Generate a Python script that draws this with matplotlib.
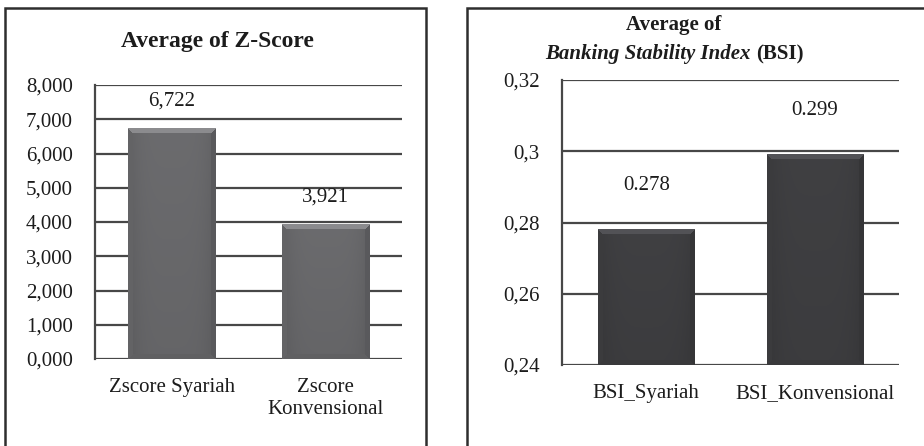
import numpy as np
import matplotlib
matplotlib.use('Agg')
import matplotlib.pyplot as plt
from matplotlib.patches import Rectangle

plt.rcParams['font.family'] = ['Liberation Serif', 'DejaVu Serif']
plt.rcParams['font.size'] = 15
plt.rcParams['text.color'] = '#1c1c1c'
plt.rcParams['xtick.color'] = '#1c1c1c'
plt.rcParams['ytick.color'] = '#1c1c1c'

# -------------------------
# DATA
# -------------------------
z_categories = ['Zscore Syariah', 'Zscore\nKonvensional']
z_values = [6.722, 3.921]
z_ticks = [0, 1, 2, 3, 4, 5, 6, 7, 8]

bsi_categories = ['BSI_Syariah', 'BSI_Konvensional']
bsi_values = [0.278, 0.299]
bsi_ticks = [0.24, 0.26, 0.28, 0.30, 0.32]

W, H = 924, 446
GRID = '#474747'
FRAME = '#2e2e2e'


def fx(px):
    return px / W


def fy(py):
    return 1 - py / H


def bevel_image(w, h, base, b=5):
    # shaded bar face: lighter top bevel, darker sides, soft bottom
    rows, cols = np.mgrid[0:h, 0:w]
    dist = np.stack([rows, cols, w - 1 - cols, h - 1 - rows])
    side = dist.argmin(axis=0)
    near = dist.min(axis=0) < b
    shade = 1 - 0.10 * (np.abs(2 * cols / max(w - 1, 1) - 1) ** 4) - 0.06 * rows / h
    factors = np.array([1.30, 0.93, 0.84, 0.90])
    shade = np.where(near, factors[side], shade)
    img = np.clip(np.array(base)[None, None, :] * shade[:, :, None], 0, 1)
    return img


def shaded_bars(ax, x, vals, width, base):
    bars = ax.bar(x, vals, width=width, color=base, zorder=3, linewidth=0)
    y0 = ax.get_ylim()[0]
    for bar in bars:
        x0, x1 = bar.get_x(), bar.get_x() + bar.get_width()
        y1 = bar.get_height()
        (px0, py0), (px1, py1) = ax.transData.transform([(x0, y0), (x1, y1)])
        img = bevel_image(int(round(px1 - px0)), int(round(py1 - py0)), base)
        ax.imshow(img, extent=(x0, x1, y0, y1), aspect='auto', zorder=4,
                  interpolation='nearest')
    return bars


def style_axes(ax, ticks, tick_labels):
    ax.set_yticks(ticks, labels=tick_labels)
    ax.yaxis.grid(True, color=GRID, linewidth=1.6)
    ax.set_axisbelow(True)
    for s in ['top', 'right', 'bottom']:
        ax.spines[s].set_visible(False)
    ax.spines['left'].set_color(GRID)
    ax.spines['left'].set_linewidth(1.6)
    ax.tick_params(axis='y', length=0, pad=16, labelsize=15)
    ax.tick_params(axis='x', length=0, pad=14, labelsize=15)


fig = plt.figure(figsize=(W / 100, H / 100), dpi=100)

# panel frames (run past the bottom / right edge)
fig.patches.append(Rectangle((fx(5), fy(470)), fx(426) - fx(5), fy(8) - fy(470),
                             transform=fig.transFigure, fill=False,
                             ec=FRAME, lw=1.8, clip_on=False))
fig.patches.append(Rectangle((fx(467), fy(470)), fx(960) - fx(467), fy(8) - fy(470),
                             transform=fig.transFigure, fill=False,
                             ec=FRAME, lw=1.8, clip_on=False))

# -------------------------
# LEFT: Z-SCORE
# -------------------------
ax1 = fig.add_axes([fx(95), fy(359), fx(402) - fx(95), fy(85) - fy(359)])
x1 = np.arange(len(z_categories))
ax1.set_xlim(-0.5, 1.5)
ax1.set_ylim(z_ticks[0], z_ticks[-1])
shaded_bars(ax1, x1, z_values, 0.57, (0.42, 0.42, 0.43))
ax1.set_xlim(-0.5, 1.5)
ax1.set_ylim(z_ticks[0], z_ticks[-1])
style_axes(ax1, z_ticks, [f'{t:.3f}'.replace('.', ',') for t in z_ticks])
ax1.set_xticks(x1, labels=z_categories)
for xi, v in zip(x1, z_values):
    ax1.annotate(f'{v:.3f}'.replace('.', ','), xy=(xi, v), xytext=(0, 20),
                 textcoords='offset points', ha='center', va='center', fontsize=15)

fig.text(fx(217), fy(42), 'Average of Z-Score', ha='center', va='center',
         fontsize=17, fontweight='bold')

# -------------------------
# RIGHT: BSI
# -------------------------
ax2 = fig.add_axes([fx(562), fy(365), fx(899) - fx(562), fy(80) - fy(365)])
x2 = np.arange(len(bsi_categories))
ax2.set_xlim(-0.5, 1.5)
ax2.set_ylim(bsi_ticks[0], bsi_ticks[-1])
shaded_bars(ax2, x2, bsi_values, 0.57, (0.25, 0.25, 0.26))
ax2.set_xlim(-0.5, 1.5)
ax2.set_ylim(bsi_ticks[0], bsi_ticks[-1])
style_axes(ax2, bsi_ticks, [f'{t:g}'.replace('.', ',') for t in bsi_ticks])
ax2.set_xticks(x2, labels=bsi_categories)
for xi, v in zip(x2, bsi_values):
    ax2.annotate(f'{v:.3f}', xy=(xi, v), xytext=(0, 32),
                 textcoords='offset points', ha='center', va='center', fontsize=15)

fig.text(fx(674), fy(25), 'Average of', ha='center', va='center',
         fontsize=15, fontweight='bold')
t_a = fig.text(fx(540), fy(64), 'Banking Stability Index', ha='left', va='bottom',
               fontsize=15, fontweight='bold', fontstyle='italic')
t_b = ax2.annotate('(BSI)', xy=(1, 0), xycoords=t_a, xytext=(4, 0),
                   textcoords='offset points', ha='left', va='bottom',
                   fontsize=15, fontweight='bold')

# center the two-part title line
fig.canvas.draw()
r = fig.canvas.get_renderer()
bb_a = t_a.get_window_extent(r)
bb_b = t_b.get_window_extent(r)
t_a.set_x(fx(674) - (bb_b.x1 - bb_a.x0) / 2 / W)

fig.savefig('out.png', dpi=100)
